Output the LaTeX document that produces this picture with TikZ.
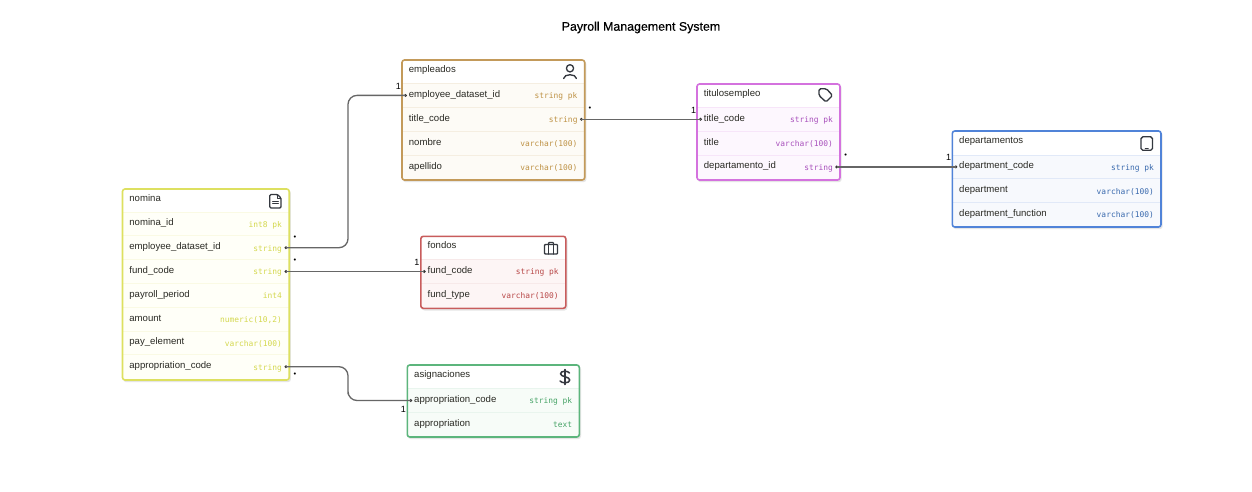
\documentclass[tikz,border=0pt]{standalone}
\usepackage{fontspec}
\setmainfont{Liberation Sans}
\newfontfamily\typefont{DejaVu Sans Mono}
\newfontfamily\headfont[FakeBold=0.35]{Liberation Sans}
\definecolor{nameink}{HTML}{2A2A24}
\definecolor{relink}{HTML}{666666}
\definecolor{iconink}{HTML}{34383F}
\definecolor{yb}{HTML}{DDE060}\definecolor{yf}{HTML}{FFFFF8}\definecolor{yt}{HTML}{D4D84E}
\definecolor{ob}{HTML}{C39A5A}\definecolor{of}{HTML}{FDFBF6}\definecolor{ot}{HTML}{BE9245}
\definecolor{pb}{HTML}{D472DE}\definecolor{pf}{HTML}{FDF7FE}\definecolor{pt}{HTML}{A850BC}
\definecolor{bb}{HTML}{5083D8}\definecolor{bf}{HTML}{F7F9FD}\definecolor{bt}{HTML}{3A6AAE}
\definecolor{rb}{HTML}{C85C5C}\definecolor{rf}{HTML}{FDF5F5}\definecolor{rt}{HTML}{B84848}
\definecolor{gb}{HTML}{5CB57C}\definecolor{gf}{HTML}{F7FCF8}\definecolor{gt}{HTML}{48A468}
\tikzset{
  rowbox/.style={inner sep=0pt,outer sep=0pt,minimum height=23.8pt,anchor=north west},
  rowname/.style={inner sep=0pt,anchor=base west,text=nameink,font=\fontsize{9.6}{11}\selectfont},
  rowtype/.style={inner sep=0pt,anchor=base east,font=\typefont\fontsize{7.9}{10}\selectfont},
  tabletitle/.style={inner sep=0pt,anchor=base west,text=nameink,font=\fontsize{9.6}{11}\selectfont},
  tableframe/.style={rounded corners=2.5pt,line width=1.6pt,inner sep=0pt,outer sep=0pt,anchor=north west},
  tableshadow/.style={rounded corners=3pt,fill=black!10,draw=none,inner sep=0pt,anchor=north west},
  port/.style={circle,fill=black!80,inner sep=0pt,minimum size=3.2pt},
  rel/.style={draw=relink,line width=1.3pt,rounded corners=9pt},
  card/.style={inner sep=0pt,text=black,font=\fontsize{9}{10}\selectfont},
  many/.style={inner sep=0pt,text=black,font=\fontsize{7.5}{8}\selectfont},
  iconline/.style={draw=iconink,line width=1.35pt,line join=round,line cap=round},
}
% \tablehead{id}{left}{right}{top}{bottom}{title}{border}{fill}{type colour}
\newcommand{\tablehead}[9]{%
  \def\tid{#1}\def\txl{#2}\def\txr{#3}\def\tcol{#7}\def\tfill{#8}\def\ttype{#9}%
  \pgfmathsetmacro{\tw}{#3-#2}\pgfmathsetmacro{\th}{#5-#4}%
  \node[tableshadow,minimum width=\tw pt+1pt,minimum height=\th pt+1pt] at (#2+0.5,#4+1) {};
  \fill[white,rounded corners=2.5pt] (#2,#4) rectangle (#3,#5);
  \pgfmathsetmacro{\tb}{#4+12.5}%
  \node[tabletitle] (#1-title) at (#2+6.7,\tb) {#6};
}
% \tablerow{key}{top}{name}{type}
\newcommand{\tablerow}[4]{%
  \node[rowbox,fill=\tfill,minimum width=\tw pt] (\tid-#1) at (\txl,#2) {};
  \draw[\tcol,opacity=.13,line width=.7pt] (\tid-#1.north west) -- (\tid-#1.north east);
  \pgfmathsetmacro{\ny}{#2+13.9}\pgfmathsetmacro{\my}{#2+15.3}%
  \node[rowname] at (\txl+6.7,\ny) {#3};
  \node[rowtype,text=\ttype] at (\txr-7,\my) {#4};
}
\newcommand{\tableframe}[3]{%
  \node[tableframe,draw=\tcol,minimum width=\tw pt,minimum height=\th pt] (#1) at (#2,#3) {};
}
\begin{document}
\begin{tikzpicture}[x=1pt,y=-1pt]
\useasboundingbox (0,0) rectangle (1252,492);
\fill[white] (0,0) rectangle (1252,492);
\node[inner sep=0pt,text=black,font=\headfont\fontsize{12.4}{14}\selectfont] (heading) at (641,27.5) {Payroll Management System};

% nomina
\tablehead{nomina}{122.5}{289.2}{189}{380}{nomina}{yb}{yf}{yt}
\tablerow{id}{212}{nomina\_id}{int8 pk}
\tablerow{emp}{235.8}{employee\_dataset\_id}{string}
\tablerow{fund}{259.6}{fund\_code}{string}
\tablerow{period}{283.4}{payroll\_period}{int4}
\tablerow{amount}{307.2}{amount}{numeric(10,2)}
\tablerow{pay}{331}{pay\_element}{varchar(100)}
\tablerow{appr}{354.8}{appropriation\_code}{string}
\tableframe{nomina}{122.5}{189}

% empleados
\tablehead{empleados}{402}{584.7}{60}{180}{empleados}{ob}{of}{ot}
\tablerow{id}{83.5}{employee\_dataset\_id}{string pk}
\tablerow{title}{107.4}{title\_code}{string}
\tablerow{nombre}{131.3}{nombre}{varchar(100)}
\tablerow{apellido}{155.2}{apellido}{varchar(100)}
\tableframe{empleados}{402}{60}

% titulosempleo
\tablehead{titulos}{697}{840}{84}{180}{titulosempleo}{pb}{pf}{pt}
\tablerow{code}{107.4}{title\_code}{string pk}
\tablerow{title}{131.2}{title}{varchar(100)}
\tablerow{dep}{155}{departamento\_id}{string}
\tableframe{titulos}{697}{84}

% departamentos
\tablehead{departamentos}{952.3}{1161}{131}{227}{departamentos}{bb}{bf}{bt}
\tablerow{code}{155}{department\_code}{string pk}
\tablerow{dep}{178.8}{department}{varchar(100)}
\tablerow{func}{202.6}{department\_function}{varchar(100)}
\tableframe{departamentos}{952.3}{131}

% fondos
\tablehead{fondos}{420.8}{565.8}{236.3}{308.3}{fondos}{rb}{rf}{rt}
\tablerow{code}{259.6}{fund\_code}{string pk}
\tablerow{type}{283.5}{fund\_type}{varchar(100)}
\tableframe{fondos}{420.8}{236.3}

% asignaciones
\tablehead{asignaciones}{407.3}{579.3}{365}{437}{asignaciones}{gb}{gf}{gt}
\tablerow{code}{388.6}{appropriation\_code}{string pk}
\tablerow{text}{412.6}{appropriation}{text}
\tableframe{asignaciones}{407.3}{365}

% ports
\node[port] (p-nom-emp) at ([xshift=-3.3pt]nomina-emp.east) {};
\node[port] (p-nom-fund) at ([xshift=-3.3pt]nomina-fund.east) {};
\node[port] (p-nom-appr) at ([xshift=-3.3pt]nomina-appr.east) {};
\node[port] (p-emp-id) at ([xshift=3.5pt]empleados-id.west) {};
\node[port] (p-emp-title) at ([xshift=-3.3pt]empleados-title.east) {};
\node[port] (p-tit-code) at ([xshift=3.5pt]titulos-code.west) {};
\node[port] (p-tit-dep) at ([xshift=-3.3pt]titulos-dep.east) {};
\node[port] (p-dep-code) at ([xshift=3.5pt]departamentos-code.west) {};
\node[port] (p-fon-code) at ([xshift=3.5pt]fondos-code.west) {};
\node[port] (p-asi-code) at ([xshift=3.5pt]asignaciones-code.west) {};
\coordinate (bend-a) at (348,170);
\coordinate (bend-b) at (348,385);

% connectors
\draw[rel] (p-nom-emp.center) -| (bend-a) |- (p-emp-id.center);
\draw[rel] (p-nom-fund.center) -- (p-fon-code.center);
\draw[rel] (p-nom-appr.center) -| (bend-b) |- (p-asi-code.center);
\draw[rel] (p-emp-title.center) -- (p-tit-code.center);
\draw[rel] (p-tit-dep.center) -- (p-dep-code.center);

% cardinalities
\node[many] (m1) at (295,237.5) {•};
\node[many] (m2) at (295,261) {•};
\node[many] (m3) at (295,374.3) {•};
\node[many] (m4) at (590,109) {•};
\node[many] (m5) at (845.7,156) {•};
\node[card] (o1) at (398.3,86.5) {1};
\node[card] (o2) at (416.8,262.5) {1};
\node[card] (o3) at (403.3,409.7) {1};
\node[card] (o4) at (693.5,110) {1};
\node[card] (o5) at (948.5,157.3) {1};

% icons
\draw[iconline] (570,68.3) circle (3.6);
\draw[iconline] (563.6,78.5) .. controls (564,73.5) and (576,73.5) .. (576.4,78.5);
% document
\draw[iconline,rounded corners=1.2pt] (269.8,194.5) -- (277.5,194.5) -- (281,198) -- (281,208) -- (269.8,208) -- cycle;
\draw[iconline,line width=.9pt] (277.5,194.5) -- (277.5,198) -- (281,198);
\draw[iconline,line width=.9pt] (272.5,201) -- (278.5,201) (272.5,203.5) -- (278.5,203.5);
% tag
\draw[iconline,rounded corners=1.5pt] (819,88.8) -- (826.5,88.8) -- (832.5,95.5) -- (826,102) -- (819,95.5) -- cycle;
% tablet
\draw[iconline,rounded corners=1.8pt] (1141,136.8) rectangle (1152.5,150.3);
\draw[iconline,line width=1.6pt] (1145.5,148.6) -- (1148,148.6);
% briefcase
\draw[iconline,rounded corners=.8pt] (544.5,244.5) rectangle (557.5,254);
\draw[iconline,rounded corners=.8pt] (548.5,244.5) -- (548.5,242.5) -- (553.5,242.5) -- (553.5,244.5);
\draw[iconline] (548.5,244.5) -- (548.5,254) (553.5,244.5) -- (553.5,254);
% dollar
\draw[iconline,line width=1.5pt] (565,369.5) -- (565,384.5);
\draw[iconline,line width=1.5pt] (569.5,373) .. controls (568,370.5) and (560.5,370.5) .. (560.5,373.8) .. controls (560.5,377) and (569.8,376.5) .. (569.8,380) .. controls (569.8,383.5) and (561.5,383.5) .. (560,381);
\end{tikzpicture}
\end{document}
